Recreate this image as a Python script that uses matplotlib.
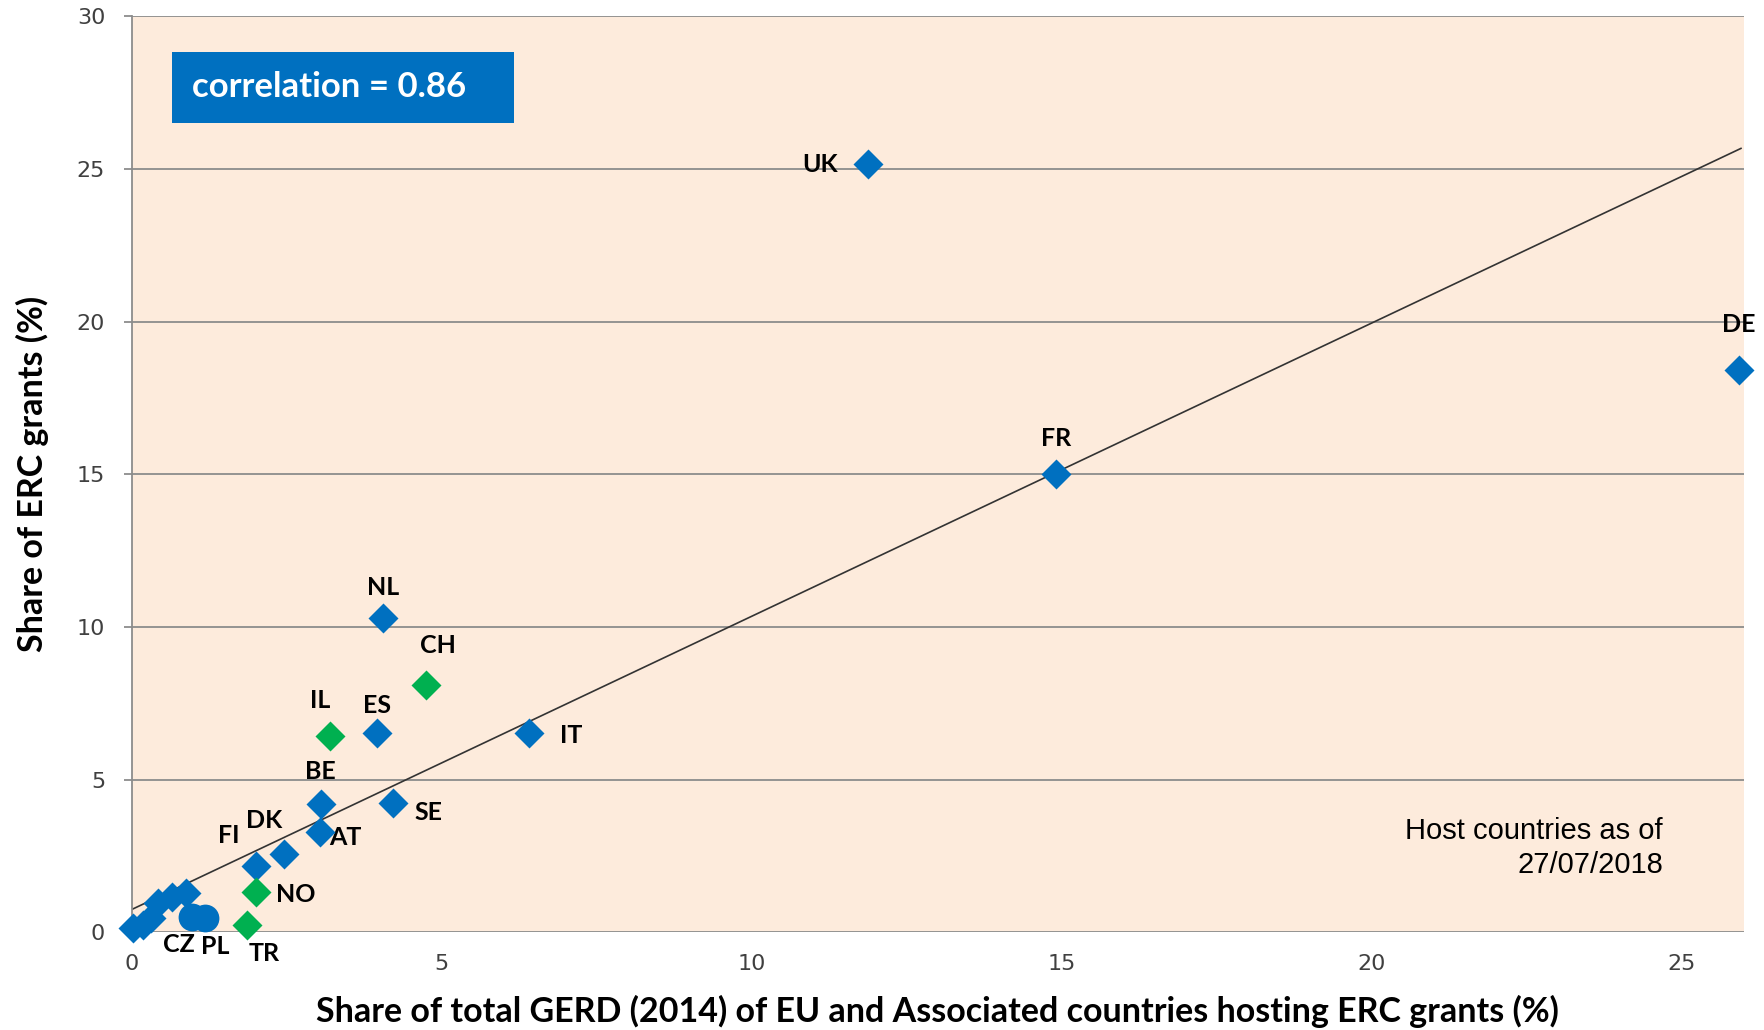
import numpy as np
import matplotlib
matplotlib.use('Agg')
import matplotlib.pyplot as plt
from matplotlib.patches import Rectangle

# share of GERD (x) vs share of ERC grants (y)
countries = ['UK', 'DE', 'FR', 'NL', 'ES', 'IT', 'BE', 'SE', 'AT', 'DK', 'FI',
             '', '', '', '', '', '']
gerd = [11.87, 25.92, 14.90, 4.05, 3.96, 6.41, 3.05, 4.21, 3.03, 2.46, 2.00,
        0.43, 0.65, 0.88, 0.03, 0.19, 0.32]
erc = [25.16, 18.42, 15.02, 10.28, 6.51, 6.51, 4.21, 4.23, 3.28, 2.55, 2.16,
       0.94, 1.16, 1.27, 0.12, 0.23, 0.45]

# associated countries (green)
assoc = ['CH', 'IL', 'NO', 'TR']
assoc_gerd = [4.75, 3.20, 2.00, 1.86]
assoc_erc = [8.10, 6.42, 1.33, 0.25]

# the two round markers
circ = ['CZ', 'PL']
circ_gerd = [0.97, 1.18]
circ_erc = [0.50, 0.45]

# trendline as drawn
trend_a = 0.74
trend_b = 0.961
trend_x = [0, 25.95]

# label offsets in pixels (dx, dy)
offs = {'UK': (-48, 0), 'DE': (0, 45), 'FR': (0, 35), 'NL': (0, 31),
        'ES': (0, 28), 'IT': (42, -2), 'BE': (0, 32), 'SE': (36, -9),
        'AT': (26, -5), 'DK': (-20, 34), 'FI': (-27, 31),
        'CH': (12, 39), 'IL': (-10, 36), 'NO': (40, -3), 'TR': (17, -29),
        'CZ': (-13, -28), 'PL': (10, -28)}

blue = '#0070C0'
green = '#00B050'
bg = '#FDEBDC'
lab_font = ['Lato', 'DejaVu Sans']

fig = plt.figure(figsize=(17.64, 10.30), dpi=100)
ax = fig.add_axes([0.0746, 0.095, 0.9141, 0.889])
ax.set_facecolor(bg)

ax.set_xlim(0, 26)
ax.set_ylim(0, 30)
ax.set_yticks([0, 5, 10, 15, 20, 25, 30])
ax.set_xticks([0, 5, 10, 15, 20, 25])
ax.grid(axis='y', color='#8C8C8C', lw=1.3)
ax.set_axisbelow(True)

for s in ['top', 'right', 'bottom']:
    ax.spines[s].set_visible(False)
ax.spines['left'].set_color('#8C8C8C')
ax.spines['left'].set_linewidth(1.3)
ax.tick_params(axis='y', length=6, color='#8C8C8C', width=1.3, pad=13,
               labelsize=16, labelcolor='#404040')
ax.tick_params(axis='x', length=0, pad=16, labelsize=16, labelcolor='#404040')

xx = np.array(trend_x)
ax.plot(xx, trend_a + trend_b * xx, color='#333333', lw=1.2, zorder=2)

ax.plot(circ_gerd, circ_erc, 'o', color=blue, ms=20, mec='none', zorder=3,
        clip_on=False)
ax.plot(gerd, erc, 'D', color=blue, ms=15, mec='none', zorder=4, clip_on=False)
ax.plot(assoc_gerd, assoc_erc, 'D', color=green, ms=15, mec='none', zorder=4,
        clip_on=False)

for names, xs, ys in [(countries, gerd, erc), (assoc, assoc_gerd, assoc_erc),
                      (circ, circ_gerd, circ_erc)]:
    for n, x, y in zip(names, xs, ys):
        if n == '':
            continue
        dx, dy = offs[n]
        ax.annotate(n, (x, y), xytext=(dx, dy), textcoords='offset pixels',
                    ha='center', va='center', fontsize=18, fontweight='bold',
                    family=lab_font, color='black', annotation_clip=False)

# correlation box
ax.add_patch(Rectangle((0.025, 0.884), 0.212, 0.077, transform=ax.transAxes,
                       fc=blue, ec='none', zorder=5))
ax.text(0.0375, 0.9225, 'correlation = 0.86', transform=ax.transAxes,
        ha='left', va='center', fontsize=25, fontweight='bold',
        family=lab_font, color='white', zorder=6)

ax.text(0.9497, 0.092, 'Host countries as of\n27/07/2018', transform=ax.transAxes,
        ha='right', va='center', fontsize=21, family='Liberation Sans',
        multialignment='right', linespacing=1.3)

ax.set_xlabel('Share of total GERD (2014) of EU and Associated countries hosting ERC grants (%)',
              fontsize=24.5, fontweight='bold', family=lab_font, labelpad=15)
ax.set_ylabel('Share of ERC grants (%)', fontsize=24.5, fontweight='bold',
              family=lab_font, labelpad=20)

fig.savefig('out.png', dpi=100)
